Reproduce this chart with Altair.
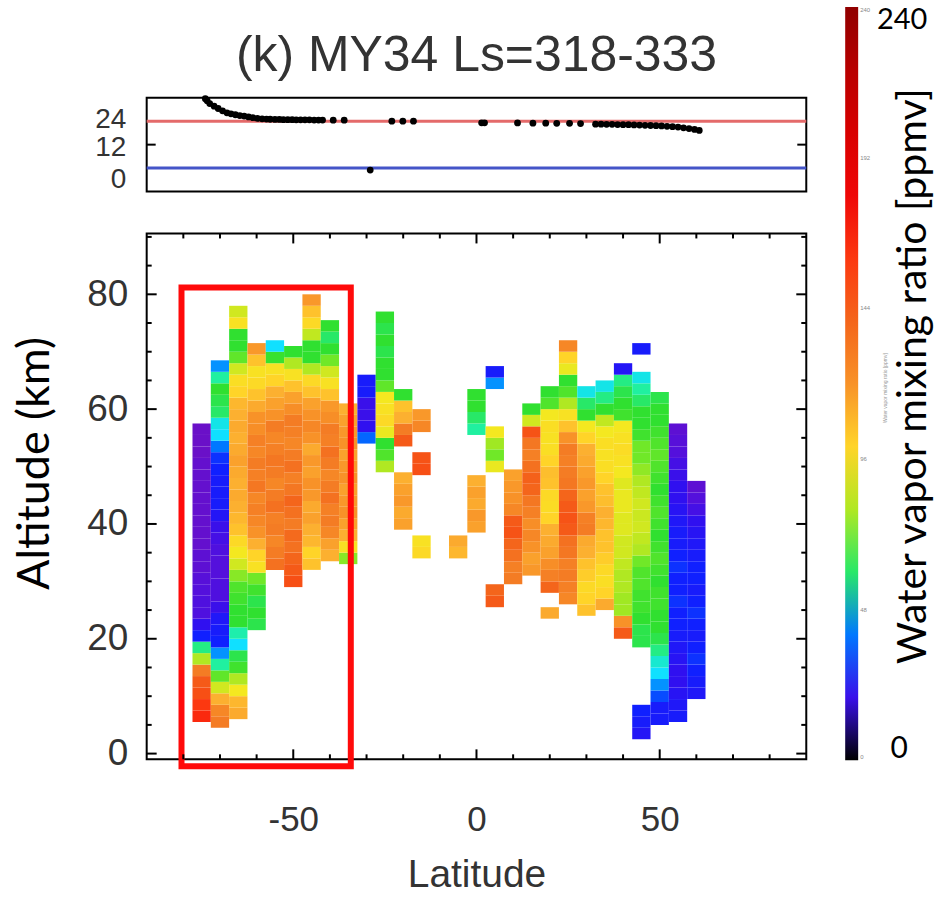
import altair as alt
import pandas as pd

# ---------------- water vapour mixing ratio (ppmv) ----------------
# Each latitude column: centre latitude, lowest bin edge (km), values upward in 2-km bins.
wv_m75 = [165, 160, 150, 145, 130, 80, 58, 30, 22, 16, 16, 15, 14, 12, 12, 10, 10, 10, 10, 10,
          10, 10, 10, 8, 8, 8]
wv_m70 = [130, 125, 110, 85, 70, 56, 42, 30, 28, 26, 20, 16, 16, 15, 15, 16, 18, 20, 25, 28,
          28, 28, 30, 32, 40, 48, 50, 60, 62, 64, 56, 42]
wv_m65 = [112, 108, 92, 80, 66, 62, 48, 55, 64, 64, 66, 68, 75, 85, 92, 98, 105, 108, 110, 112,
          110, 112, 115, 112, 110, 112, 110, 108, 100, 96, 85, 70, 64, 64, 95, 85]
wv_m60 = [62, 64, 62, 66, 72, 95, 100, 110, 120, 125, 128, 125, 132, 128, 130, 125, 128, 122,
          120, 112, 105, 98, 95, 105, 118]
wv_m55 = [135, 130, 125, 130, 128, 135, 130, 125, 130, 132, 128, 125, 130, 120, 115, 110, 100,
          95, 65, 48]
wv_m50 = [150, 145, 140, 135, 138, 130, 135, 140, 132, 128, 135, 130, 125, 128, 130, 122, 115,
          105, 95, 80, 64]
wv_m45 = [105, 100, 108, 110, 115, 112, 118, 120, 115, 118, 112, 120, 125, 120, 115, 105, 98,
          80, 64, 64, 82, 98, 105, 118]
wv_m40 = [110, 115, 125, 130, 128, 135, 130, 125, 130, 135, 128, 130, 122, 118, 105, 95, 85,
          72, 64, 60, 64]
wv_m35 = [75, 95, 110, 115, 120, 118, 115, 120, 118, 115, 120, 118, 115, 110]
wv_m30 = [38, 22, 20, 20, 28, 28]
wv_m25 = [80, 68, 64, 90, 98, 95, 92, 70, 64, 64, 62, 64, 62, 64]
wv_m20_hi = [145, 130, 110, 105, 64]
wv_m20_lo = [115, 112, 118, 115, 110]
wv_m15_hi = [125, 118]
wv_m15_mid = [150, 148]
wv_m15_lo = [98, 95]
wv_m05 = [108, 112]
wv_p00_hi = [56, 60, 64, 64]
wv_p00_lo = [115, 118, 112, 115, 110]
wv_p05_hi = [42, 28]
wv_p05_mid = [90, 72, 78, 92]
wv_p05_lo = [145, 140]
wv_p10 = [130, 128, 135, 140, 148, 145, 125, 120, 118, 115]
wv_p15 = [118, 115, 120, 125, 122, 128, 132, 140, 142, 135, 128, 132, 148, 85, 64]
wv_p20 = [140, 128, 122, 115, 112, 110, 100, 97, 98, 105, 106, 100, 96, 95, 96, 92, 68, 64]
wv_p20_lo = [112]
wv_p25 = [125, 128, 130, 128, 132, 135, 145, 148, 145, 140, 132, 130, 128, 130, 120, 105, 95,
          80, 68, 64, 90, 100, 125]
wv_p30 = [105, 100, 98, 102, 105, 110, 112, 130, 128, 118, 115, 118, 115, 112, 110, 100, 92,
          64, 60, 50]
wv_p35 = [112, 100, 96, 98, 102, 105, 105, 108, 110, 106, 105, 100, 96, 95, 96, 92, 82, 64,
          58, 50]
wv_p40 = [145, 120, 78, 78, 80, 80, 82, 85, 85, 88, 88, 90, 90, 88, 92, 95, 97, 95, 92, 66,
          64, 62, 58, 25]
wv_p45_hi = [28]
wv_p45 = [62, 62, 64, 66, 66, 68, 68, 72, 80, 82, 85, 84, 85, 82, 80, 76, 72, 72, 66, 64, 64,
          60, 56, 50]
wv_p45_lo = [25, 28, 30]
wv_p50 = [28, 28, 35, 42, 48, 52, 58, 62, 64, 64, 66, 66, 64, 66, 68, 66, 64, 66, 68, 66, 64,
          66, 68, 70, 68, 66, 64, 64, 62]
wv_p55 = [28, 26, 24, 22, 22, 24, 26, 28, 30, 30, 32, 30, 30, 32, 30, 28, 28, 26, 24, 22, 22,
          20, 18, 15, 14, 12]
wv_p60 = [26, 28, 30, 32, 30, 28, 30, 32, 30, 28, 30, 30, 28, 26, 24, 22, 18, 15, 12]

columns = [
    (-75, 5.5, wv_m75), (-70, 4.5, wv_m70), (-65, 6.0, wv_m65), (-60, 21.5, wv_m60),
    (-55, 32.0, wv_m55), (-50, 29.0, wv_m50), (-45, 32.0, wv_m45), (-40, 33.5, wv_m40),
    (-35, 33.0, wv_m35), (-30, 54.0, wv_m30), (-25, 49.0, wv_m25),
    (-20, 53.5, wv_m20_hi), (-20, 39.0, wv_m20_lo),
    (-15, 56.0, wv_m15_hi), (-15, 48.5, wv_m15_mid), (-15, 34.0, wv_m15_lo),
    (-5, 34.0, wv_m05),
    (0, 55.5, wv_p00_hi), (0, 38.5, wv_p00_lo),
    (5, 63.5, wv_p05_hi), (5, 49.0, wv_p05_mid), (5, 25.5, wv_p05_lo),
    (10, 29.5, wv_p10), (15, 31.0, wv_p15),
    (20, 28.0, wv_p20), (20, 23.5, wv_p20_lo),
    (25, 26.0, wv_p25), (30, 24.0, wv_p30), (35, 25.0, wv_p35), (40, 20.0, wv_p40),
    (45, 69.5, wv_p45_hi), (45, 18.5, wv_p45), (45, 2.5, wv_p45_lo),
    (50, 5.0, wv_p50), (55, 5.5, wv_p55), (60, 9.5, wv_p60),
]

LAT_BIN = 5.0
ALT_BIN = 2.0

# ---------------- local time of the observations ----------------
lt_lat = [-74.0, -73.5, -72.8, -71.6, -70.5, -69.3, -68.1, -67.0, -65.8, -64.6, -63.4, -62.2,
          -61.0, -59.8, -58.5, -57.3, -56.3, -55.0, -53.8, -52.7, -51.5, -50.3, -49.2, -48.0,
          -46.8, -45.6, -44.3, -43.1, -42.0, -39.1, -36.1, -29.0, -23.1, -20.1, -17.2, 1.4,
          2.2, 11.2, 15.4, 18.9, 21.9, 25.4, 28.4, 32.5, 34.0, 35.5, 37.0, 38.5, 40.0, 41.5,
          43.0, 44.5, 46.0, 47.5, 49.0, 50.5, 52.0, 53.5, 55.0, 56.5, 58.0, 59.5, 60.8]
lt_hour = [35.5, 34.5, 33.0, 31.7, 30.5, 29.3, 28.3, 27.8, 27.3, 26.9, 26.6, 26.2,
           25.8, 25.4, 25.2, 25.1, 25.0, 24.9, 24.9, 24.8, 24.8, 24.8, 24.7, 24.7,
           24.7, 24.7, 24.6, 24.6, 24.6, 24.5, 24.5, -1.0, 24.0, 24.0, 24.0, 23.2,
           23.2, 23.1, 23.0, 23.0, 22.9, 22.9, 22.8, 22.5, 22.5, 22.4, 22.4, 22.3, 22.2, 22.2,
           22.1, 22.0, 21.9, 21.8, 21.7, 21.6, 21.4, 21.2, 21.0, 20.6, 20.2, 19.8, 19.3]
lt_ref_hours = [24, 0]
lt_ref_colors = ["#e46a6a", "#4455c8"]

# ---------------- colour table (rainbow, 0-240 ppmv) ----------------
cmap_stops = [0, 3, 8, 15, 22, 30, 40, 48, 56, 64, 72, 82, 92, 100, 110, 120, 130, 144, 160,
              176, 200, 220, 240]
cmap_colors = ["#000000", "#50009a", "#6a10c8", "#5410dc", "#3010f0", "#1020ff", "#0078ff",
               "#10e0ff", "#20f0a0", "#30e030", "#70e828", "#c0e820", "#f4e820", "#ffd428",
               "#fcb030", "#f89228", "#f47c24", "#f45c18", "#fc3810", "#f40808", "#d80000",
               "#b80000", "#900000"]
cbar_labels = [0, 48, 96, 144, 192, 240]

# highlighted box (latitude, altitude)
box_lat = [-80.5, -34.3]
box_alt = [-2.2, 81.2]

# axis ticks
lat_major = [-50, 0, 50]
lat_minor = [-80, -70, -60, -40, -30, -20, -10, 10, 20, 30, 40, 60, 70, 80]
alt_major = [0, 20, 40, 60, 80]
alt_minor = [5, 10, 15, 25, 30, 35, 45, 50, 55, 65, 70, 75, 85, 90]

# ---------------- layout ----------------
W = 661
H_TOP = 94
H_MAIN = 527
TXT = "Liberation Sans"
BIG = "Lato"

x_scale = alt.Scale(domain=[-90, 90], nice=False, zero=False)
y_main = alt.Scale(domain=[-1, 90.6], nice=False, zero=False)
y_top = alt.Scale(domain=[-12, 36], nice=False, zero=False)

cells = []
for lat, base, vals in columns:
    for i, v in enumerate(vals):
        lo = base + ALT_BIN * i
        cells.append({"lat0": lat - LAT_BIN / 2, "lat1": lat + LAT_BIN / 2,
                      "alt0": lo, "alt1": lo + ALT_BIN, "ppmv": v})
cells_df = pd.DataFrame(cells)


def y_ticks(vals, length, scale, width):
    df = pd.DataFrame({"v": vals})
    base = alt.Chart(df).mark_rule(color="black", strokeWidth=2)
    left = base.encode(y=alt.Y("v:Q", scale=scale),
                       x=alt.value(0), x2=alt.value(length))
    right = base.encode(y=alt.Y("v:Q", scale=scale),
                        x=alt.value(width), x2=alt.value(width - length))
    return [left, right]


def x_ticks(vals, length, height):
    df = pd.DataFrame({"v": vals})
    base = alt.Chart(df).mark_rule(color="black", strokeWidth=2)
    bottom = base.encode(x=alt.X("v:Q", scale=x_scale),
                         y=alt.value(height), y2=alt.value(height - length))
    top = base.encode(x=alt.X("v:Q", scale=x_scale),
                      y=alt.value(0), y2=alt.value(length))
    return [bottom, top]


# ----- top panel: local time -----
lt_df = pd.DataFrame({"lat": lt_lat, "lt": lt_hour})
ref_df = pd.DataFrame({"h": lt_ref_hours, "c": lt_ref_colors})

ref_lines = alt.Chart(ref_df).mark_rule(strokeWidth=3).encode(
    y=alt.Y("h:Q", scale=y_top,
            axis=alt.Axis(values=[0, 12, 24], labelFontSize=28, labelFont=TXT,
                          labelColor="#333333", ticks=False, domain=False, grid=False,
                          title=None, labelPadding=21, labelOverlap=False,
                          labelOffset={"condition": [{"test": "datum.value == 0", "value": 11},
                                                     {"test": "datum.value == 12", "value": 3}],
                                       "value": -2})),
    color=alt.Color("c:N", scale=None),
    x=alt.value(0), x2=alt.value(W),
)
lt_points = alt.Chart(lt_df).mark_circle(size=46, color="black", opacity=1).encode(
    x=alt.X("lat:Q", scale=x_scale, axis=None),
    y=alt.Y("lt:Q", scale=y_top),
)
title_txt = alt.Chart(pd.DataFrame({"t": ["(k) MY34 Ls=318-333"]})).mark_text(
    font=TXT, fontSize=50, color="#333333", baseline="middle", align="center"
).encode(x=alt.datum(0, scale=x_scale, axis=None), y=alt.value(-42), text="t:N")

top = alt.layer(ref_lines, lt_points, *y_ticks([12], 9, y_top, W), title_txt).properties(
    width=W, height=H_TOP)

# ----- main panel: latitude-altitude section -----
heat = alt.Chart(cells_df).mark_rect().encode(
    x=alt.X("lat0:Q", scale=x_scale,
            axis=alt.Axis(values=lat_major, labelFontSize=35, labelFont=TXT,
                          labelColor="#333333", labelPadding=43, ticks=False, domain=False,
                          grid=False, labelExpr="'' + datum.value",
                          title="Latitude", titleFont=TXT, titleFontSize=39,
                          titleFontWeight="normal", titleColor="#333333", titlePadding=18)),
    x2="lat1:Q",
    y=alt.Y("alt0:Q", scale=y_main,
            axis=alt.Axis(values=alt_major, labelFontSize=37, labelFont=TXT,
                          labelColor="#333333", labelPadding=19, ticks=False, domain=False,
                          grid=False, title="Altitude (km)", titleFont=BIG, titleFontSize=45,
                          titleFontWeight="normal", titleColor="black",
                          titleX=-89, titleY=230, titleBaseline="bottom", titleAngle=270)),
    y2="alt1:Q",
    color=alt.Color("ppmv:Q",
                    scale=alt.Scale(domain=cmap_stops, range=cmap_colors, interpolate="rgb"),
                    legend=alt.Legend(orient="none", legendX=700, legendY=-91,
                                      direction="vertical", gradientLength=755,
                                      gradientThickness=13, values=cbar_labels,
                                      labelFontSize=6, labelColor="#888888", labelOffset=2,
                                      title=None, gradientStrokeWidth=0)),
)

box = alt.Chart(pd.DataFrame({"a": [box_lat[0]], "b": [box_lat[1]],
                              "c": [box_alt[0]], "d": [box_alt[1]]})).mark_rect(
    filled=False, stroke="#ff0a0a", strokeWidth=6).encode(
    x=alt.X("a:Q", scale=x_scale), x2="b:Q",
    y=alt.Y("c:Q", scale=y_main), y2="d:Q")

big_240 = alt.Chart(pd.DataFrame({"t": ["240"]})).mark_text(
    font=BIG, fontSize=29, color="black", align="center", baseline="middle"
).encode(x=alt.value(757), y=alt.value(-214), text="t:N")
big_0 = alt.Chart(pd.DataFrame({"t": ["0"]})).mark_text(
    font=BIG, fontSize=30, color="black", align="center", baseline="middle"
).encode(x=alt.value(754), y=alt.value(517), text="t:N")
big_title = alt.Chart(pd.DataFrame({"t": ["Water vapor mixing ratio [ppmv]"]})).mark_text(
    font=BIG, fontSize=41, color="black", align="center", baseline="middle", angle=270
).encode(x=alt.value(769), y=alt.value(143), text="t:N")
small_title = alt.Chart(pd.DataFrame({"t": ["Water vapor mixing ratio [ppmv]"]})).mark_text(
    font=TXT, fontSize=5, color="#999999", align="center", baseline="middle", angle=270
).encode(x=alt.value(740), y=alt.value(155), text="t:N")

main = alt.layer(
    heat, box,
    *y_ticks(alt_major, 10, y_main, W), *y_ticks(alt_minor, 5, y_main, W),
    *x_ticks(lat_major, 10, H_MAIN), *x_ticks(lat_minor, 5, H_MAIN),
    big_240, big_0, big_title, small_title,
).properties(width=W, height=H_MAIN)

chart = alt.vconcat(top, main, spacing=42, bounds="flush").properties(
    padding={"left": 12, "top": 4, "right": 0, "bottom": 0},
    background="white",
).configure_view(stroke="black", strokeWidth=2)

chart.save("out.html", embed_options={"renderer": "svg", "actions": False})
